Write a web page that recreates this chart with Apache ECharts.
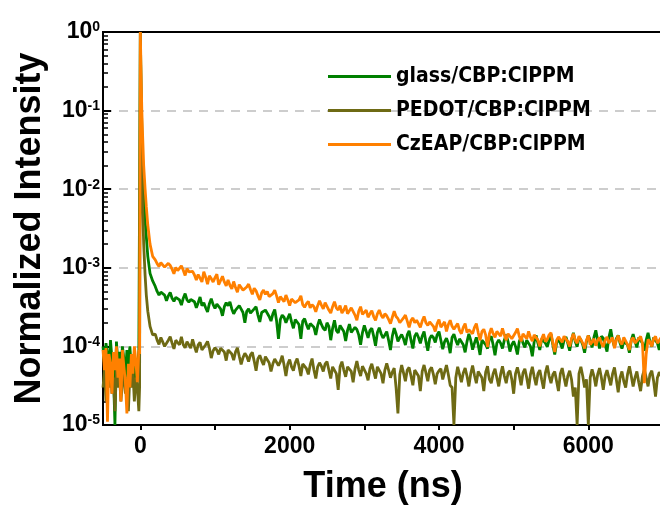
<!DOCTYPE html>
<html><head><meta charset="utf-8">
<script src="https://cdn.jsdelivr.net/npm/echarts@6/dist/echarts.min.js"></script>
<style>html,body{margin:0;padding:0;background:#fff}#c{width:660px;height:505px}</style>
</head><body><div id="c"></div>
<script>
// time axis (ns)
const times = [
-500,-480,-460,-440,-420,-400,-380,-360,-340,-320,
-300,-280,-260,-240,-220,-200,-180,-160,-140,-120,
-100,-80,-60,-40,-20,
-10,0,10,20,30,45,64,80,100,130,165,
200,225,250,275,300,325,350,375,400,425,450,475,500,525,550,575,600,625,650,675,
700,725,750,775,800,825,850,875,900,925,950,975,1000,1025,1050,1075,1100,1125,1150,1175,
1200,1225,1250,1275,1300,1325,1350,1375,1400,1425,1450,1475,1500,1525,1550,1575,1600,1625,1650,1675,
1700,1725,1750,1775,1800,1825,1850,1875,1900,1925,1950,1975,2000,2025,2050,2075,2100,2125,2150,2175,
2200,2225,2250,2275,2300,2325,2350,2375,2400,2425,2450,2475,2500,2525,2550,2575,2600,2625,2650,2675,
2700,2725,2750,2775,2800,2825,2850,2875,2900,2925,2950,2975,3000,3025,3050,3075,3100,3125,3150,3175,
3200,3225,3250,3275,3300,3325,3350,3375,3400,3425,3450,3475,3500,3525,3550,3575,3600,3625,3650,3675,
3700,3725,3750,3775,3800,3825,3850,3875,3900,3925,3950,3975,4000,4025,4050,4075,4100,4125,4150,4175,
4200,4225,4250,4275,4300,4325,4350,4375,4400,4425,4450,4475,4500,4525,4550,4575,4600,4625,4650,4675,
4700,4725,4750,4775,4800,4825,4850,4875,4900,4925,4950,4975,5000,5025,5050,5075,5100,5125,5150,5175,
5200,5225,5250,5275,5300,5325,5350,5375,5400,5425,5450,5475,5500,5525,5550,5575,5600,5625,5650,5675,
5700,5725,5750,5775,5800,5825,5850,5875,5900,5925,5950,5975,6000,6025,6050,6075,6100,6125,6150,6175,
6200,6225,6250,6275,6300,6325,6350,6375,6400,6425,6450,6475,6500,6525,6550,6575,6600,6625,6650,6675,
6700,6725,6750,6775,6800,6825,6850,6875,6900,6925,6950,6975,7000
];
// glass/CBP:ClPPM
const glass = [
1.0e-4,0.6e-4,1.1e-4,0.8e-4,0.5e-4,1.2e-4,0.7e-4,0.45e-4,0.1e-4,1.15e-4,
0.6e-4,0.85e-4,0.5e-4,1.0e-4,0.7e-4,0.4e-4,0.9e-4,0.6e-4,1.0e-4,0.5e-4,
0.8e-4,0.3e-4,0.7e-4,0.5e-4,0.9e-4,
0.9e-4,1,0.2,0.06,0.025,0.01,0.004,0.0025,0.0014,0.00085,0.00068,
5.8e-4,5.0e-4,4.5e-4,4.9e-4,5.15e-4,4.5e-4,3.8e-4,4.4e-4,4.85e-4,4.1e-4,3.75e-4,4.2e-4,4.4e-4,3.9e-4,3.35e-4,4.1e-4,4.7e-4,3.9e-4,3.65e-4,3.95e-4,
4.1e-4,3.7e-4,3.1e-4,3.6e-4,4.25e-4,3.3e-4,3.6e-4,3.1e-4,2.75e-4,3.5e-4,4.05e-4,3.4e-4,3.05e-4,3.45e-4,3.65e-4,3.0e-4,2.45e-4,3.2e-4,3.6e-4,3.3e-4,
3.7e-4,3.0e-4,2.6e-4,2.9e-4,3.0e-4,3.3e-4,3.35e-4,2.7e-4,2.0e-4,2.8e-4,3.0e-4,2.65e-4,2.55e-4,3.0e-4,3.2e-4,2.5e-4,2.05e-4,2.7e-4,2.6e-4,2.9e-4,
2.8e-4,2.4e-4,2.1e-4,2.6e-4,2.95e-4,2.1e-4,1.25e-4,2.2e-4,2.5e-4,2.35e-4,2.0e-4,2.3e-4,2.6e-4,2.05e-4,1.7e-4,2.2e-4,2.3e-4,1.9e-4,1.25e-4,2.1e-4,
2.25e-4,1.9e-4,1.65e-4,1.95e-4,2.05e-4,1.75e-4,1.4e-4,1.85e-4,2.2e-4,1.9e-4,1.7e-4,1.6e-4,2.0e-4,1.8e-4,1.2e-4,1.7e-4,2.15e-4,1.6e-4,1.48e-4,1.85e-4,
1.83e-4,1.55e-4,1.17e-4,1.6e-4,1.92e-4,1.5e-4,1.42e-4,1.75e-4,1.64e-4,1.4e-4,1.05e-4,1.5e-4,1.85e-4,1.55e-4,1.28e-4,1.6e-4,1.7e-4,1.35e-4,1.02e-4,1.5e-4,
1.73e-4,1.45e-4,1.28e-4,1.4e-4,1.54e-4,1.2e-4,0.9e-4,1.35e-4,1.71e-4,1.45e-4,1.16e-4,1.3e-4,1.42e-4,1.25e-4,1.04e-4,1.4e-4,1.58e-4,1.2e-4,0.94e-4,1.35e-4,
1.48e-4,1.3e-4,1.09e-4,1.35e-4,1.55e-4,1.15e-4,0.88e-4,1.25e-4,1.38e-4,1.3e-4,1.12e-4,1.4e-4,1.54e-4,1.2e-4,0.92e-4,1.15e-4,1.27e-4,1.1e-4,0.82e-4,1.3e-4,
1.43e-4,1.2e-4,1.04e-4,1.25e-4,1.26e-4,1.05e-4,0.84e-4,1.15e-4,1.44e-4,1.2e-4,0.91e-4,1.1e-4,1.3e-4,1.05e-4,0.78e-4,1.2e-4,1.22e-4,1.05e-4,0.94e-4,1.25e-4,
1.34e-4,1.05e-4,0.77e-4,1.1e-4,1.21e-4,1.1e-4,0.94e-4,1.2e-4,1.41e-4,1.15e-4,0.86e-4,1.05e-4,1.16e-4,1.0e-4,0.79e-4,1.15e-4,1.32e-4,1.1e-4,0.97e-4,1.2e-4,
1.21e-4,1.0e-4,0.75e-4,1.15e-4,1.38e-4,1.1e-4,0.9e-4,1.25e-4,1.23e-4,1.1e-4,0.99e-4,1.2e-4,1.43e-4,1.05e-4,0.79e-4,1.1e-4,1.27e-4,1.1e-4,0.94e-4,1.2e-4,
1.32e-4,1.1e-4,0.88e-4,1.2e-4,1.49e-4,1.15e-4,0.99e-4,1.3e-4,1.21e-4,1.05e-4,0.83e-4,1.15e-4,1.38e-4,1.2e-4,0.97e-4,1.3e-4,1.6e-4,1.2e-4,0.94e-4,1.35e-4,
1.27e-4,1.05e-4,0.86e-4,1.3e-4,1.65e-4,1.2e-4,0.99e-4,1.25e-4,1.38e-4,1.1e-4,0.94e-4,1.15e-4,1.21e-4,1.05e-4,0.83e-4,1.2e-4,1.43e-4,1.15e-4,0.97e-4,1.3e-4,
1.32e-4,1.1e-4,0.88e-4,1.2e-4,1.49e-4,1.15e-4,0.99e-4,1.3e-4,1.27e-4,1.1e-4,0.9e-4,1.2e-4,1.38e-4
];
// PEDOT/CBP:ClPPM
const pedot = [
0.3e-4,0.5e-4,0.2e-4,0.45e-4,0.3e-4,0.55e-4,0.25e-4,0.4e-4,0.15e-4,0.5e-4,
0.3e-4,0.45e-4,0.2e-4,0.35e-4,0.5e-4,0.25e-4,0.4e-4,0.15e-4,0.45e-4,0.3e-4,
0.5e-4,0.2e-4,0.4e-4,0.3e-4,0.15e-4,
0.3e-4,1,0.1,0.02,0.006,0.002,0.0008,0.00045,0.00028,0.00018,0.00014,
1.43e-4,1.2e-4,1.06e-4,1.3e-4,1.26e-4,1.0e-4,1.06e-4,1.2e-4,1.33e-4,1.1e-4,0.93e-4,1.2e-4,1.12e-4,1.05e-4,1.32e-4,1.05e-4,0.96e-4,1.15e-4,1.13e-4,0.95e-4,
1.23e-4,1.0e-4,0.84e-4,1.05e-4,1.13e-4,0.9e-4,0.92e-4,1.05e-4,1.16e-4,0.95e-4,0.71e-4,0.88e-4,0.96e-4,0.9e-4,0.79e-4,0.95e-4,1.0e-4,0.85e-4,0.66e-4,0.9e-4,
0.89e-4,0.8e-4,0.67e-4,0.85e-4,0.96e-4,0.75e-4,0.59e-4,0.72e-4,0.82e-4,0.75e-4,0.64e-4,0.78e-4,0.84e-4,0.65e-4,0.49e-4,0.7e-4,0.77e-4,0.66e-4,0.58e-4,0.74e-4,
0.78e-4,0.62e-4,0.48e-4,0.6e-4,0.69e-4,0.66e-4,0.57e-4,0.64e-4,0.76e-4,0.58e-4,0.42e-4,0.6e-4,0.68e-4,0.55e-4,0.49e-4,0.62e-4,0.7e-4,0.56e-4,0.42e-4,0.6e-4,
0.62e-4,0.52e-4,0.44e-4,0.58e-4,0.7e-4,0.5e-4,0.39e-4,0.55e-4,0.62e-4,0.56e-4,0.48e-4,0.6e-4,0.64e-4,0.5e-4,0.39e-4,0.55e-4,0.57e-4,0.45e-4,0.28e-4,0.55e-4,
0.64e-4,0.5e-4,0.41e-4,0.55e-4,0.58e-4,0.48e-4,0.35e-4,0.52e-4,0.65e-4,0.5e-4,0.42e-4,0.56e-4,0.54e-4,0.45e-4,0.37e-4,0.52e-4,0.6e-4,0.48e-4,0.39e-4,0.55e-4,
0.58e-4,0.45e-4,0.34e-4,0.5e-4,0.61e-4,0.5e-4,0.4e-4,0.47e-4,0.53e-4,0.3e-4,0.14e-4,0.44e-4,0.58e-4,0.46e-4,0.36e-4,0.5e-4,0.54e-4,0.42e-4,0.32e-4,0.5e-4,
0.52e-4,0.42e-4,0.27e-4,0.48e-4,0.58e-4,0.46e-4,0.36e-4,0.5e-4,0.54e-4,0.44e-4,0.33e-4,0.45e-4,0.49e-4,0.52e-4,0.38e-4,0.47e-4,0.58e-4,0.44e-4,0.32e-4,0.3e-4,
0.1e-4,0.4e-4,0.55e-4,0.44e-4,0.35e-4,0.46e-4,0.53e-4,0.42e-4,0.31e-4,0.45e-4,0.57e-4,0.43e-4,0.34e-4,0.48e-4,0.5e-4,0.4e-4,0.27e-4,0.47e-4,0.56e-4,0.38e-4,
0.34e-4,0.45e-4,0.52e-4,0.4e-4,0.31e-4,0.44e-4,0.56e-4,0.42e-4,0.34e-4,0.46e-4,0.49e-4,0.38e-4,0.25e-4,0.45e-4,0.54e-4,0.43e-4,0.32e-4,0.46e-4,0.52e-4,0.4e-4,
0.29e-4,0.44e-4,0.55e-4,0.41e-4,0.32e-4,0.45e-4,0.5e-4,0.38e-4,0.29e-4,0.46e-4,0.57e-4,0.42e-4,0.34e-4,0.44e-4,0.48e-4,0.36e-4,0.27e-4,0.45e-4,0.53e-4,0.4e-4,
0.31e-4,0.42e-4,0.49e-4,0.38e-4,0.23e-4,0.3e-4,0.1e-4,0.45e-4,0.55e-4,0.42e-4,0.3e-4,0.38e-4,0.1e-4,0.4e-4,0.51e-4,0.42e-4,0.31e-4,0.44e-4,0.53e-4,0.4e-4,
0.28e-4,0.42e-4,0.5e-4,0.4e-4,0.32e-4,0.45e-4,0.54e-4,0.38e-4,0.26e-4,0.4e-4,0.48e-4,0.36e-4,0.3e-4,0.44e-4,0.56e-4,0.42e-4,0.31e-4,0.4e-4,0.48e-4,0.35e-4,
0.27e-4,0.42e-4,0.51e-4,0.4e-4,0.31e-4,0.44e-4,0.49e-4,0.36e-4,0.23e-4,0.4e-4,0.47e-4,0.42e-4,0.33e-4
];
// CzEAP/CBP:ClPPM
const czeap = [
0.9e-4,0.5e-4,0.95e-4,0.11e-4,0.8e-4,0.6e-4,0.25e-4,0.85e-4,0.5e-4,1.0e-4,
0.4e-4,0.7e-4,0.2e-4,0.9e-4,0.55e-4,0.35e-4,0.14e-4,0.6e-4,0.3e-4,0.8e-4,
0.45e-4,1.0e-4,0.65e-4,0.35e-4,0.9e-4,
0.8e-4,1,0.3,0.1,0.05,0.02,0.01,0.006,0.0035,0.002,0.0014,
12.6e-4,11.3e-4,10.4e-4,11.6e-4,12.1e-4,10.2e-4,9.7e-4,11.4e-4,10.7e-4,9.6e-4,8.4e-4,10.1e-4,9.2e-4,8.8e-4,10.6e-4,9.3e-4,8.0e-4,9.8e-4,8.9e-4,8.5e-4,
9.0e-4,8.1e-4,7.0e-4,8.2e-4,7.4e-4,6.6e-4,8.9e-4,7.6e-4,6.2e-4,7.9e-4,7.3e-4,6.6e-4,7.5e-4,8.3e-4,6.1e-4,6.9e-4,7.8e-4,6.6e-4,5.9e-4,7.0e-4,
6.0e-4,5.4e-4,6.7e-4,5.6e-4,4.9e-4,6.1e-4,5.9e-4,5.2e-4,5.0e-4,5.7e-4,6.2e-4,5.3e-4,4.6e-4,5.5e-4,5.1e-4,4.4e-4,3.9e-4,4.8e-4,5.2e-4,4.6e-4,
5.0e-4,4.3e-4,4.1e-4,4.7e-4,5.2e-4,4.4e-4,3.6e-4,4.3e-4,4.0e-4,3.7e-4,4.5e-4,3.9e-4,3.3e-4,4.0e-4,4.1e-4,3.6e-4,3.5e-4,3.9e-4,4.4e-4,3.4e-4,
3.15e-4,3.5e-4,3.75e-4,3.1e-4,3.4e-4,3.2e-4,2.75e-4,3.3e-4,3.8e-4,3.35e-4,3.0e-4,3.6e-4,3.5e-4,2.9e-4,2.65e-4,3.2e-4,3.7e-4,3.1e-4,2.9e-4,3.3e-4,
2.65e-4,2.9e-4,3.3e-4,2.6e-4,2.7e-4,3.1e-4,2.95e-4,2.5e-4,2.15e-4,2.8e-4,3.2e-4,2.55e-4,2.7e-4,2.9e-4,2.35e-4,2.6e-4,2.85e-4,2.4e-4,2.15e-4,2.6e-4,
2.9e-4,2.5e-4,2.3e-4,2.6e-4,2.45e-4,2.2e-4,1.95e-4,2.35e-4,2.8e-4,2.4e-4,2.25e-4,2.0e-4,2.0e-4,2.3e-4,2.5e-4,2.1e-4,1.75e-4,2.15e-4,2.3e-4,2.0e-4,
2.15e-4,1.95e-4,1.75e-4,2.1e-4,2.4e-4,2.0e-4,1.85e-4,2.05e-4,2.15e-4,1.8e-4,1.55e-4,1.95e-4,2.2e-4,1.75e-4,1.85e-4,2.05e-4,1.55e-4,1.9e-4,2.15e-4,1.8e-4,
1.65e-4,1.8e-4,1.95e-4,1.6e-4,1.45e-4,1.75e-4,1.95e-4,1.5e-4,1.63e-4,1.7e-4,1.45e-4,1.75e-4,1.95e-4,1.5e-4,1.2e-4,1.55e-4,1.65e-4,1.4e-4,0.98e-4,1.45e-4,
1.7e-4,1.45e-4,1.3e-4,1.55e-4,1.5e-4,1.35e-4,1.7e-4,1.4e-4,1.2e-4,1.45e-4,1.5e-4,1.25e-4,1.3e-4,1.5e-4,1.68e-4,1.35e-4,1.16e-4,1.45e-4,1.37e-4,1.25e-4,
1.55e-4,1.3e-4,1.17e-4,1.4e-4,1.36e-4,1.2e-4,1.0e-4,1.25e-4,1.43e-4,1.15e-4,1.23e-4,1.4e-4,1.49e-4,1.1e-4,0.85e-4,1.2e-4,1.32e-4,1.25e-4,1.13e-4,1.35e-4,
1.24e-4,1.15e-4,1.0e-4,1.25e-4,1.45e-4,1.2e-4,1.1e-4,1.35e-4,1.29e-4,1.1e-4,0.94e-4,1.2e-4,1.37e-4,1.05e-4,1.14e-4,1.25e-4,1.02e-4,1.2e-4,1.3e-4,1.1e-4,
0.99e-4,1.2e-4,1.32e-4,1.1e-4,1.12e-4,1.3e-4,0.95e-4,1.2e-4,1.37e-4,1.15e-4,1.06e-4,1.3e-4,1.23e-4,1.05e-4,0.9e-4,1.2e-4,1.29e-4,1.1e-4,1.14e-4,1.25e-4,
1.34e-4,1.1e-4,0.34e-4,0.8e-4,1.23e-4,1.15e-4,1.0e-4,1.25e-4,1.34e-4,1.1e-4,1.06e-4,1.3e-4,1.23e-4
];
const seriesNames = ['glass/CBP:ClPPM', 'PEDOT/CBP:ClPPM', 'CzEAP/CBP:ClPPM'];
const seriesColors = ['#008000', '#6E6A14', '#FF8000'];
const seriesData = [glass, pedot, czeap];
const xLabelValues = [0, 2000, 4000, 6000];
const xTickValues = [0, 1000, 2000, 3000, 4000, 5000, 6000];

const chart = echarts.init(document.getElementById('c'), null, {renderer: 'canvas'});
const F = 'Liberation Sans';
chart.setOption({
  animation: false,
  backgroundColor: '#fff',
  grid: {left: 103, right: -3, top: 32, bottom: 80, outerBoundsMode: 'none', containLabel: false,
         show: true, borderColor: '#000', borderWidth: 2, backgroundColor: 'transparent'},
  legend: {
    orient: 'vertical', left: 328, top: 66, padding: 0, itemWidth: 63, itemHeight: 3, icon: 'rect', itemGap: 13,
    selectedMode: false, data: seriesNames,
    textStyle: {fontFamily: 'DejaVu Sans Condensed', fontWeight: 'bold', fontSize: 21, color: '#000', lineHeight: 21}
  },
  xAxis: {
    type: 'value', min: -500, max: 7000,
    name: 'Time (ns)', nameLocation: 'middle', nameGap: 44,
    nameTextStyle: {fontFamily: F, fontWeight: 'bold', fontSize: 36, color: '#000'},
    axisLine: {show: true, onZero: false, lineStyle: {color: '#000', width: 2}},
    axisTick: {show: true, inside: false, length: 5, customValues: xTickValues, lineStyle: {color: '#000', width: 2}},
    axisLabel: {customValues: xLabelValues, formatter: v => String(v), fontFamily: F, fontWeight: 'bold', fontSize: 23, color: '#000', margin: 10},
    splitLine: {show: false}
  },
  yAxis: {
    type: 'log', logBase: 10, min: 1e-5, max: 1,
    name: 'Normalized Intensity', nameLocation: 'middle', nameGap: 55, nameRotate: 90,
    nameTextStyle: {fontFamily: F, fontWeight: 'bold', fontSize: 36, color: '#000'},
    axisLine: {show: true, onZero: false, lineStyle: {color: '#000', width: 2}},
    axisTick: {show: true, inside: true, length: 8, lineStyle: {color: '#000', width: 2}},
    minorTick: {show: true, splitNumber: 9, length: 5, lineStyle: {color: '#000', width: 1.5}},
    axisLabel: {
      margin: 3,
      formatter: v => '{b|10}{s|' + Math.round(Math.log10(v)) + '}',
      rich: {
        b: {fontFamily: F, fontWeight: 'bold', fontSize: 23, color: '#000'},
        s: {fontFamily: F, fontWeight: 'bold', fontSize: 14, color: '#000', verticalAlign: 'top'}
      }
    },
    splitLine: {show: true, showMinLine: false, showMaxLine: false, lineStyle: {color: '#bdbdbd', width: 1.5, type: [9, 7]}},
    minorSplitLine: {show: false}
  },
  series: seriesNames.map((n, i) => ({
    name: n, type: 'line', showSymbol: false, symbol: 'none',
    color: seriesColors[i],
    lineStyle: {color: seriesColors[i], width: 2.8},
    data: times.map((t, k) => [t, seriesData[i][k]])
  }))
});
</script></body></html>
